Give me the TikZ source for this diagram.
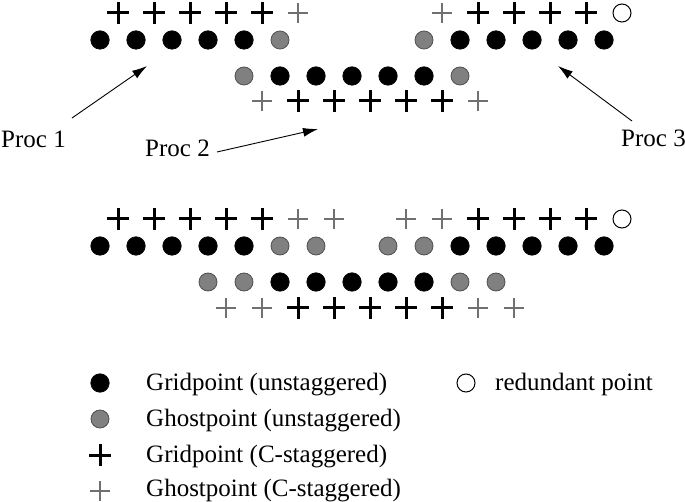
\documentclass[tikz,border=0pt]{standalone}
\usepackage{fontspec}
\setmainfont{Liberation Serif}
\usetikzlibrary{shapes.misc,arrows.meta}
\definecolor{ghostfill}{HTML}{808080}
\definecolor{ghostline}{HTML}{505050}
\definecolor{ghostplus}{HTML}{707070}
\tikzset{
  gp/.style={circle,fill=black,draw=black,line width=0.6pt,inner sep=0pt,minimum size=18.5pt},
  gh/.style={circle,fill=ghostfill,draw=ghostline,line width=0.8pt,inner sep=0pt,minimum size=18pt},
  rd/.style={circle,draw=black,line width=1pt,inner sep=0pt,minimum size=18pt},
  cp/.style={cross out,draw=black,line width=3pt,rotate=45,inner sep=0pt,minimum size=12.6pt},
  cg/.style={cross out,draw=ghostplus,line width=1.3pt,rotate=45,inner sep=0pt,minimum size=12.6pt},
  lbl/.style={font=\fontsize{25}{29}\selectfont,inner sep=0pt,anchor=base west},
  arr/.style={-{Latex[length=15pt,width=9pt]},line width=0.9pt}
}
\begin{document}
\begin{tikzpicture}[x=1pt,y=-1pt]
\useasboundingbox (0,0) rectangle (685,502);
% ---------- top: Proc 1
\foreach \k in {0,...,4} {\node[gp] (ta\k) at ({100+36*\k},40) {};}
\node[gh] (ta5) at (280,40) {};
\foreach \k in {0,...,4} {\node[cp] (tap\k) at ({118+36*\k},13) {};}
\node[cg] (tap5) at (298,13) {};
% ---------- top: Proc 2
\node[gh] (tb0) at (244,76) {};
\foreach \k in {1,...,5} {\node[gp] (tb\k) at ({244+36*\k},76) {};}
\node[gh] (tb6) at (460,76) {};
\node[cg] (tbp0) at (262,101) {};
\foreach \k in {1,...,5} {\node[cp] (tbp\k) at ({262+36*\k},101) {};}
\node[cg] (tbp6) at (478,101) {};
% ---------- top: Proc 3
\node[gh] (tc0) at (424,40) {};
\foreach \k in {1,...,5} {\node[gp] (tc\k) at ({424+36*\k},40) {};}
\node[cg] (tcp0) at (442,13) {};
\foreach \k in {1,...,4} {\node[cp] (tcp\k) at ({442+36*\k},13) {};}
\node[rd] (tcr) at (622,13) {};
% ---------- labels and arrows
\node[lbl] (l1) at (1,148) {Proc 1};
\node[lbl] (l2) at (145,157) {Proc 2};
\node[lbl] (l3) at (621,147) {Proc 3};
\coordinate (a1s) at (72,118); \coordinate (a1e) at (147,66);
\coordinate (a2s) at (217,152); \coordinate (a2e) at (318,129);
\coordinate (a3s) at (632,121); \coordinate (a3e) at (558,66);
\draw[arr] (a1s) -- (a1e);
\draw[arr] (a2s) -- (a2e);
\draw[arr] (a3s) -- (a3e);
% ---------- bottom row 1 (left part)
\foreach \k in {0,...,4} {\node[gp] (ba\k) at ({100+36*\k},246) {};}
\node[gh] (ba5) at (280,246) {};
\node[gh] (ba6) at (316,246) {};
\foreach \k in {0,...,4} {\node[cp] (bap\k) at ({118+36*\k},219) {};}
\node[cg] (bap5) at (298,219) {};
\node[cg] (bap6) at (334,219) {};
% ---------- bottom row 1 (right part)
\node[gh] (bc0) at (388,246) {};
\node[gh] (bc1) at (424,246) {};
\foreach \k in {2,...,6} {\node[gp] (bc\k) at ({388+36*\k},246) {};}
\node[cg] (bcp0) at (406,219) {};
\node[cg] (bcp1) at (442,219) {};
\foreach \k in {2,...,5} {\node[cp] (bcp\k) at ({406+36*\k},219) {};}
\node[rd] (bcr) at (622,219) {};
% ---------- bottom row 2
\node[gh] (bb0) at (208,282) {};
\node[gh] (bb1) at (244,282) {};
\foreach \k in {2,...,6} {\node[gp] (bb\k) at ({208+36*\k},282) {};}
\node[gh] (bb7) at (460,282) {};
\node[gh] (bb8) at (496,282) {};
\node[cg] (bbp0) at (226,308) {};
\node[cg] (bbp1) at (262,308) {};
\foreach \k in {2,...,6} {\node[cp] (bbp\k) at ({226+36*\k},308) {};}
\node[cg] (bbp7) at (478,308) {};
\node[cg] (bbp8) at (514,308) {};
% ---------- legend
\node[gp] (k1) at (100,383) {};
\node[gh] (k2) at (100,419) {};
\node[cp] (k3) at (100,455) {};
\node[cg] (k4) at (100,491) {};
\node[rd] (k5) at (466,383) {};
\node[lbl] (t1) at (146,390) {Gridpoint (unstaggered)};
\node[lbl] (t2) at (146,426) {Ghostpoint (unstaggered)};
\node[lbl] (t3) at (146,462) {Gridpoint (C-staggered)};
\node[lbl] (t4) at (146,496) {Ghostpoint (C-staggered)};
\node[lbl] (t5) at (495,390) {redundant point};
\end{tikzpicture}
\end{document}
